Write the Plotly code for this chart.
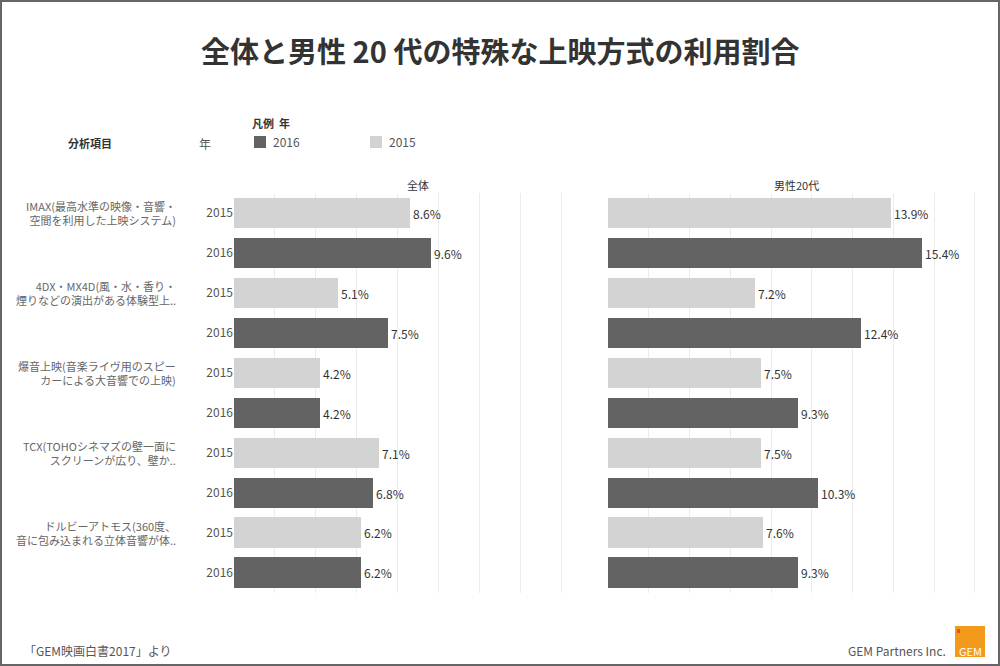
import plotly.graph_objects as go

items = ["IMAX(最高水準の映像・音響・<br>空間を利用した上映システム)",
         "4DX・MX4D(風・水・香り・<br>煙りなどの演出がある体験型上..",
         "爆音上映(音楽ライヴ用のスピー<br>カーによる大音響での上映)",
         "TCX(TOHOシネマズの壁一面に<br>スクリーンが広り、壁か..",
         "ドルビーアトモス(360度、<br>音に包み込まれる立体音響が体.."]
all_2015 = [8.6, 5.1, 4.2, 7.1, 6.2]
all_2016 = [9.6, 7.5, 4.2, 6.8, 6.2]
m20_2015 = [13.9, 7.2, 7.5, 7.5, 7.6]
m20_2016 = [15.4, 12.4, 9.3, 10.3, 9.3]
years = ["2015", "2016"]

C16, C15 = "#636363", "#d3d3d3"
font = "Noto Sans CJK JP"
fig = go.Figure()
y15 = [2*i for i in range(5)]
y16 = [2*i+1 for i in range(5)]
for xa, v15, v16 in [("x", all_2015, all_2016), ("x2", m20_2015, m20_2016)]:
    for ys, vs, c in [(y15, v15, C15), (y16, v16, C16)]:
        fig.add_trace(go.Bar(x=vs, y=ys, orientation="h", marker=dict(color=c, line=dict(width=0)),
                             width=0.76, text=[f"{v:.1f}%" for v in vs], textposition="outside",
                             textfont=dict(size=12, color="#333"), cliponaxis=False,
                             xaxis=xa, yaxis="y", showlegend=False))
ax = dict(showticklabels=False, showgrid=True, gridcolor="#ececec", zeroline=False, dtick=2, fixedrange=True)
fig.update_layout(
    width=1000, height=666, plot_bgcolor="white", paper_bgcolor="white",
    margin=dict(l=0, r=0, t=0, b=0), bargap=0,
    font=dict(family=font, color="#555"),
    xaxis=dict(domain=[0.234, 0.572], range=[0, 16.5], **ax),
    xaxis2=dict(domain=[0.608, 0.985], range=[0, 18.5], **ax),
    yaxis=dict(domain=[0.110, 0.710], range=[9.5, -0.5], tickvals=list(range(10)),
               ticktext=years*5, tickfont=dict(size=12, color="#555"), showgrid=False,
               zeroline=False, ticks="", ticklen=0, fixedrange=True),
    shapes=[dict(type="rect", xref="paper", yref="paper", x0=0.001, y0=0.0015, x1=0.999, y1=0.9985,
                 line=dict(color="#666", width=2)),
            dict(type="rect", xref="paper", yref="paper", x0=0.254, x1=0.266, y0=1-148/666, y1=1-136/666,
                 fillcolor=C16, line=dict(width=0)),
            dict(type="rect", xref="paper", yref="paper", x0=0.370, x1=0.382, y0=1-148/666, y1=1-136/666,
                 fillcolor=C15, line=dict(width=0)),
            dict(type="rect", xref="paper", yref="paper", x0=0.955, x1=0.985, y0=1-657/666, y1=1-626/666,
                 fillcolor="#f39a1d", line=dict(width=0)),
            dict(type="rect", xref="paper", yref="paper", x0=0.957, x1=0.960, y0=1-633/666, y1=1-629/666,
                 fillcolor="#e8501e", line=dict(width=0))],
)
ann = [
    dict(text="<b>全体と男性 20 代の特殊な上映方式の利用割合</b>", x=0.5, y=1-50/666, font=dict(size=29, color="#333")),
    dict(text="<b>分析項目</b>", x=0.09, y=1-143/666, font=dict(size=11, color="#333")),
    dict(text="年", x=0.205, y=1-143/666, font=dict(size=12)),
    dict(text="<b>凡例  年</b>", x=0.250, y=1-123/666, xanchor="left", font=dict(size=11, color="#333")),
    dict(text="2016", x=0.271, y=1-142/666, xanchor="left", font=dict(size=12)),
    dict(text="2015", x=0.387, y=1-142/666, xanchor="left", font=dict(size=12)),
    dict(text="全体", x=0.418, y=1-185/666, font=dict(size=11, color="#333")),
    dict(text="男性20代", x=0.796, y=1-185/666, font=dict(size=11, color="#333")),
    dict(text="「GEM映画白書2017」より", x=0.022, y=1-650/666, xanchor="left", font=dict(size=12)),
    dict(text="GEM Partners Inc.", x=0.948, y=1-650/666, xanchor="right", font=dict(size=12)),
    dict(text="GEM", x=0.970, y=1-651/666, font=dict(size=11, color="white")),
]
for a in ann:
    a.setdefault("xanchor", "center")
    fig.add_annotation(xref="paper", yref="paper", showarrow=False, yanchor="middle", **a)
for i, t in enumerate(items):
    fig.add_annotation(text=t, xref="paper", yref="y", x=0.178, y=2*i, xanchor="right", yanchor="middle",
                       align="right", showarrow=False, font=dict(size=11, color="#666"))
fig.write_html("out.html", config={"displayModeBar": False},
               post_script="document.body.style.margin='0';document.body.style.overflow='hidden';")
